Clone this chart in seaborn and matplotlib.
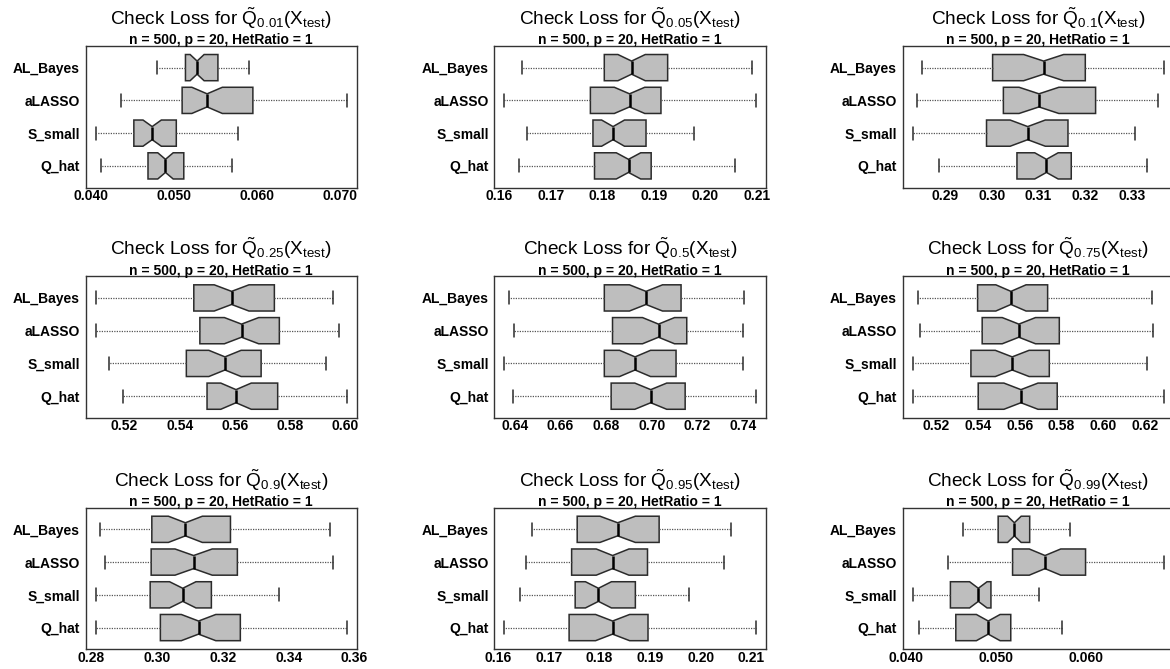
import pandas as pd
import seaborn as sns
import matplotlib.pyplot as plt

methods = ["AL_Bayes", "aLASSO", "S_small", "Q_hat"]
taus = ["0.01", "0.05", "0.1", "0.25", "0.5", "0.75", "0.9", "0.95", "0.99"]

# box summaries, one row per panel, columns follow `methods`
whisk_lo = [
    [0.0480, 0.0436, 0.0406, 0.0412],
    [0.1644, 0.1610, 0.1654, 0.1638],
    [0.2852, 0.2840, 0.2831, 0.2887],
    [0.5097, 0.5095, 0.5143, 0.5194],
    [0.6375, 0.6397, 0.6353, 0.6393],
    [0.5112, 0.5120, 0.5088, 0.5085],
    [0.2827, 0.2841, 0.2813, 0.2813],
    [0.1666, 0.1655, 0.1643, 0.1612],
    [0.0463, 0.0446, 0.0407, 0.0414],
]
q1 = [
    [0.0514, 0.0510, 0.0452, 0.0469],
    [0.1804, 0.1777, 0.1782, 0.1785],
    [0.3002, 0.3025, 0.2989, 0.3054],
    [0.5451, 0.5473, 0.5424, 0.5499],
    [0.6792, 0.6828, 0.6792, 0.6822],
    [0.5397, 0.5419, 0.5365, 0.5400],
    [0.2984, 0.2982, 0.2979, 0.3010],
    [0.1756, 0.1745, 0.1752, 0.1740],
    [0.0502, 0.0518, 0.0449, 0.0455],
]
med = [
    [0.0528, 0.0540, 0.0474, 0.0490],
    [0.1857, 0.1853, 0.1821, 0.1851],
    [0.3111, 0.3101, 0.3077, 0.3117],
    [0.5588, 0.5624, 0.5564, 0.5604],
    [0.6975, 0.7030, 0.6927, 0.6996],
    [0.5557, 0.5595, 0.5563, 0.5605],
    [0.3086, 0.3111, 0.3078, 0.3126],
    [0.1836, 0.1826, 0.1798, 0.1826],
    [0.0520, 0.0554, 0.0480, 0.0491],
]
q3 = [
    [0.0553, 0.0595, 0.0503, 0.0512],
    [0.1927, 0.1914, 0.1885, 0.1895],
    [0.3200, 0.3222, 0.3163, 0.3170],
    [0.5743, 0.5761, 0.5695, 0.5755],
    [0.7129, 0.7154, 0.7107, 0.7147],
    [0.5733, 0.5789, 0.5741, 0.5779],
    [0.3223, 0.3244, 0.3165, 0.3253],
    [0.1918, 0.1895, 0.1871, 0.1896],
    [0.0537, 0.0599, 0.0494, 0.0516],
]
whisk_hi = [
    [0.0590, 0.0708, 0.0577, 0.0570],
    [0.2090, 0.2098, 0.1979, 0.2058],
    [0.3368, 0.3356, 0.3307, 0.3332],
    [0.5955, 0.5976, 0.5930, 0.6006],
    [0.7406, 0.7399, 0.7400, 0.7457],
    [0.6232, 0.6237, 0.6208, 0.6291],
    [0.3527, 0.3536, 0.3370, 0.3577],
    [0.2061, 0.2046, 0.1977, 0.2109],
    [0.0582, 0.0686, 0.0547, 0.0573],
]

# axis ticks (labelled) and the extra unlabelled ticks R left in
x_ticks = [
    [0.04, 0.05, 0.06, 0.07],
    [0.16, 0.17, 0.18, 0.19, 0.20, 0.21],
    [0.29, 0.30, 0.31, 0.32, 0.33],
    [0.52, 0.54, 0.56, 0.58, 0.60],
    [0.64, 0.66, 0.68, 0.70, 0.72, 0.74],
    [0.52, 0.54, 0.56, 0.58, 0.60, 0.62],
    [0.28, 0.30, 0.32, 0.34, 0.36],
    [0.16, 0.17, 0.18, 0.19, 0.20, 0.21],
    [0.04, 0.05, 0.06],
]
x_minor = [[0.045, 0.055, 0.065], [], [], [], [], [], [], [], [0.045, 0.055, 0.065]]
x_fmt = ["{:.3f}", "{:.2f}", "{:.2f}", "{:.2f}", "{:.2f}", "{:.2f}", "{:.2f}", "{:.2f}", "{:.3f}"]


def box_sample(lo, a, m, b, hi, k=13):
    # 4k+1 values whose quartiles are exactly a, m, b (n=53 sets the notch size)
    return [lo] + [a] * k + [m] * k + [b] * k + [b] * (k - 1) + [hi]


sns.set_style("white")
plt.rcParams["font.family"] = ["Liberation Sans", "DejaVu Sans"]
plt.rcParams["mathtext.fontset"] = "custom"
plt.rcParams["mathtext.rm"] = "Liberation Sans"
plt.rcParams["mathtext.it"] = "Liberation Sans:italic"
plt.rcParams["mathtext.bf"] = "Liberation Sans:bold"
plt.rcParams["text.color"] = "black"
plt.rcParams["xtick.color"] = "black"
plt.rcParams["ytick.color"] = "black"
plt.rcParams["axes.labelcolor"] = "black"

W, H = 1170, 669
fig = plt.figure(figsize=(W / 100, H / 100), dpi=100)
col_left = [85.5, 494.3, 902.5]
row_top = [46, 276.3, 507.7]
aw, ah = 271.5, 141.5

for i, tau in enumerate(taus):
    r, c = divmod(i, 3)
    ax = fig.add_axes([col_left[c] / W, 1 - (row_top[r] + ah) / H, aw / W, ah / H])

    rows = []
    for j, m in enumerate(methods):
        for v in box_sample(whisk_lo[i][j], q1[i][j], med[i][j], q3[i][j], whisk_hi[i][j]):
            rows.append((m, v))
    df = pd.DataFrame(rows, columns=["method", "loss"])

    sns.boxplot(data=df, x="loss", y="method", order=methods, orient="h",
                notch=True, whis=(0, 100), width=0.8, color="#BEBEBE",
                saturation=1, linecolor="#2b2b2b", linewidth=1.1,
                showfliers=False, capwidths=0.4, ax=ax,
                whiskerprops=dict(linestyle=(0, (1, 1)), color="#555555", linewidth=0.9),
                medianprops=dict(color="black", linewidth=1.8),
                capprops=dict(color="#2b2b2b", linewidth=1.1))

    lo, hi = min(whisk_lo[i]), max(whisk_hi[i])
    pad = 0.04 * (hi - lo)
    ax.set_xlim(lo - pad, hi + pad)
    ax.set_ylim(3.66, -0.66)

    ax.set_xticks(x_ticks[i])
    ax.set_xticklabels([x_fmt[i].format(t) for t in x_ticks[i]], fontweight="bold", fontsize=10)
    ax.set_xticks(x_minor[i], minor=True)
    ax.tick_params(axis="x", which="major", length=0, pad=1.0)
    ax.tick_params(axis="x", which="minor", length=2.5, width=0.8, color="#333333")
    ax.set_yticks(range(len(methods)))
    ax.set_yticklabels(methods, fontweight="bold", fontsize=10)
    ax.tick_params(axis="y", length=2.5, width=0.8, pad=1.5, color="#333333")
    ax.set_xlabel("")
    ax.set_ylabel("")
    for s in ax.spines.values():
        s.set_visible(True)
        s.set_color("#333333")
        s.set_linewidth(1.0)

    ax.text(0.5, 1 + 21 / ah,
            rf"Check Loss for $\tilde{{\mathrm{{Q}}}}_{{{tau}}}(\mathrm{{X}}_{{\mathrm{{test}}}})$",
            transform=ax.transAxes, ha="center", va="baseline", fontsize=13.7)
    ax.text(0.5, 1 + 1.7 / ah, "n = 500, p = 20, HetRatio = 1",
            transform=ax.transAxes, ha="center", va="baseline",
            fontsize=10, fontweight="bold")

fig.savefig("out.png", dpi=100)
